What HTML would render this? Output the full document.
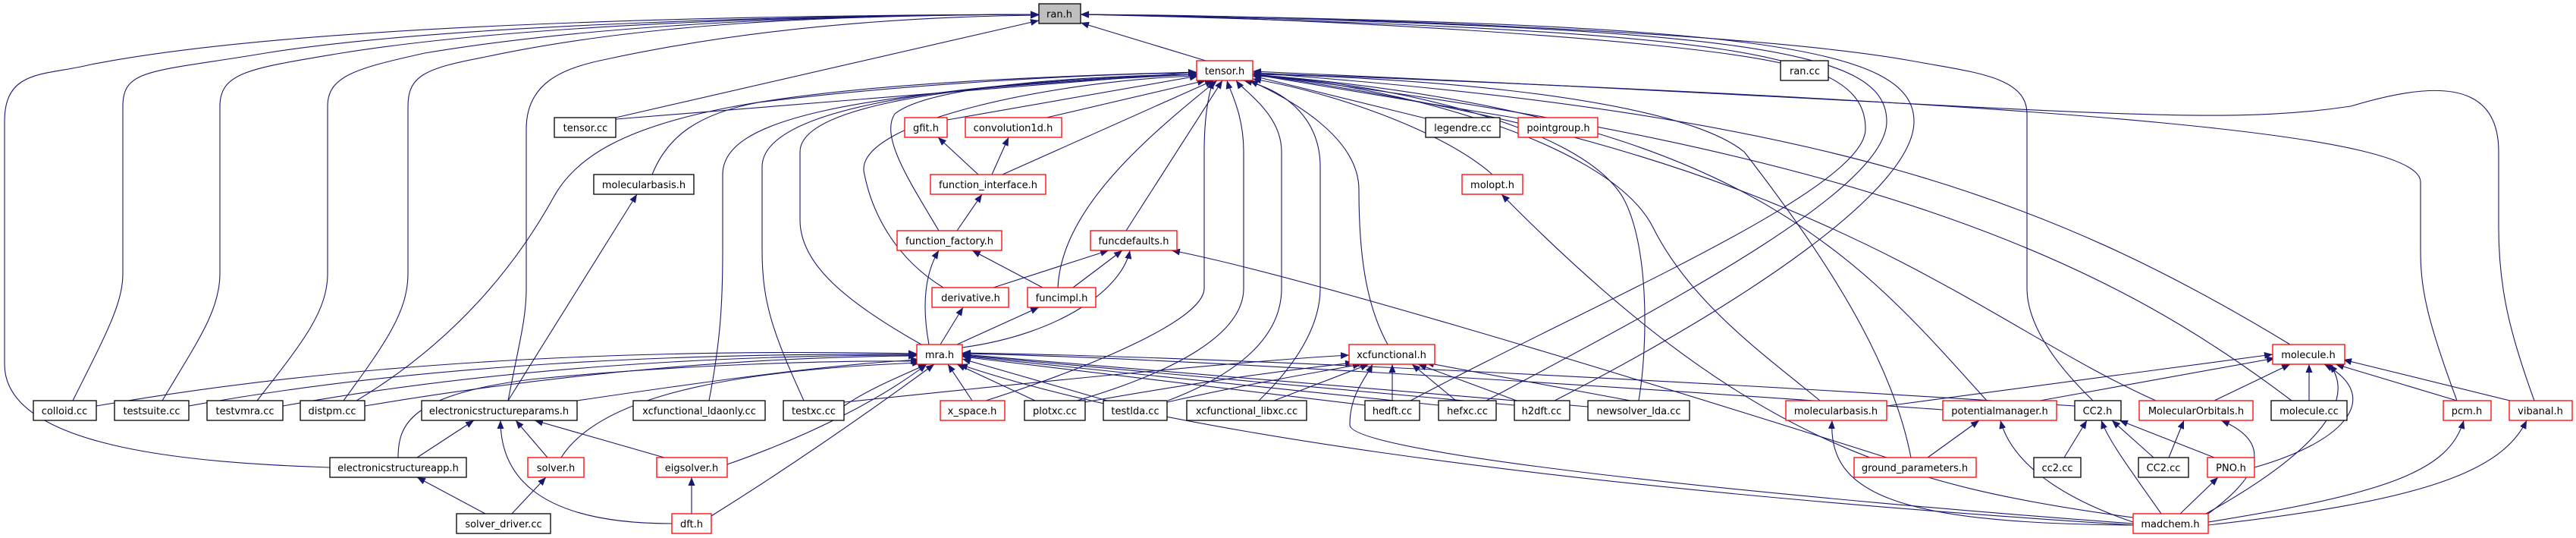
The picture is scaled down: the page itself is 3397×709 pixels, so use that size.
<!DOCTYPE html>
<html><head><meta charset="utf-8"><style>
html,body{margin:0;padding:0;background:#fff;}
svg{display:block;}
text{font-family:"DejaVu Sans","Liberation Sans",sans-serif;font-size:13px;fill:#000;text-anchor:middle;}
.e{fill:none;stroke:#191970;stroke-width:1.1;}
.r{fill:#fff;stroke:#ff0000;stroke-width:1.3;}
.b{fill:#fff;stroke:#000;stroke-width:1.3;}
</style></head><body>
<svg width="3397" height="709" viewBox="0 0 3397 709" xmlns="http://www.w3.org/2000/svg">
<defs><marker id="a" markerUnits="userSpaceOnUse" markerWidth="12" markerHeight="9" refX="11" refY="4.5" orient="auto"><path d="M0,0 L11,4.5 L0,9 z" fill="#191970"/></marker></defs>
<g class="e" marker-end="url(#a)">
<!-- into ran.h -->
<path d="M1590,80 L1425,30"/>
<path d="M812,155 L1370,27"/>
<path d="M96,528 C140,440 162,400 162,360 L162,140 C162,90 200,95 350,70 C600,30 1100,20 1370,19"/>
<path d="M214,528 C260,450 290,410 290,360 L290,140 C290,95 330,90 450,70 C700,30 1100,20 1370,19"/>
<path d="M339,528 C400,450 432,410 432,360 L432,140 C432,100 470,90 560,70 C800,30 1100,20 1370,19"/>
<path d="M453,528 C510,450 538,410 538,360 L538,140 C538,100 560,90 640,75 C850,30 1100,20 1370,19"/>
<path d="M670,528 C685,450 694,420 694,380 L694,170 C694,110 740,90 800,78 C1000,35 1200,22 1370,20"/>
<path d="M435,616 C250,610 6,590 6,480 L6,160 C6,90 60,100 120,85 C400,30 1000,20 1370,19"/>
<path d="M2348,83 C2200,50 1700,22 1425,19"/>
<path d="M1860,528 C2100,400 2460,250 2460,170 C2460,70 2300,40 1425,19"/>
<path d="M1960,528 C2200,400 2488,250 2488,160 C2488,65 2300,35 1425,19"/>
<path d="M2050,528 C2300,400 2524,250 2524,160 C2524,60 2300,30 1425,19"/>
<path d="M2760,528 C2700,470 2673,420 2673,380 L2673,150 C2673,100 2600,95 2520,80 C2300,40 1700,20 1425,19"/>
<!-- into tensor.h -->
<path d="M812,157 L1578,95"/>
<path d="M860,230 C880,180 920,150 1000,135 C1200,110 1450,97 1578,96"/>
<path d="M470,528 C600,450 680,350 730,260 C790,150 1000,110 1578,95"/>
<path d="M1249,158 L1580,100"/>
<path d="M1380,155 L1590,106"/>
<path d="M1322,230 L1600,106"/>
<path d="M1238,304 C1200,240 1160,180 1180,150 C1230,110 1450,100 1580,98"/>
<path d="M1485,304 L1612,106"/>
<path d="M1395,379 C1400,280 1500,190 1605,106"/>
<path d="M1244,379 C1180,340 1150,280 1140,230 C1120,160 1400,105 1580,100"/>
<path d="M1215,454 C1120,400 1055,350 1055,290 L1055,200 C1055,150 1200,110 1580,98"/>
<path d="M935,528 C950,450 953,400 953,330 L953,230 C953,160 1100,120 1580,98"/>
<path d="M1060,528 C1020,440 1005,400 1005,330 L1005,220 C1005,150 1200,110 1580,98"/>
<path d="M1300,528 C1450,480 1588,420 1588,380 L1588,200 C1588,150 1595,120 1600,106"/>
<path d="M1420,528 C1550,490 1640,440 1640,380 L1640,200 C1640,150 1622,120 1618,106"/>
<path d="M1540,528 C1640,490 1690,440 1690,380 L1690,200 C1690,150 1640,120 1630,106"/>
<path d="M1660,528 C1720,470 1741,420 1741,380 L1741,220 C1741,160 1700,120 1640,106"/>
<path d="M1830,454 C1800,400 1792,330 1792,250 C1792,180 1700,130 1648,106"/>
<path d="M1880,156 L1652,100"/>
<path d="M2002,156 L1652,98"/>
<path d="M1968,230 C1900,170 1750,120 1652,104"/>
<path d="M2400,528 C2330,470 2230,400 2180,300 C2120,180 1800,105 1652,100"/>
<path d="M2620,528 C2450,340 2300,150 1652,98"/>
<path d="M2520,603 C2500,500 2440,380 2300,200 C2200,120 1800,100 1652,98"/>
<path d="M2843,528 C2600,420 2400,200 1652,98"/>
<path d="M3022,528 C2800,360 2500,200 1652,98"/>
<path d="M3020,454 C2700,260 2400,150 1652,96"/>
<path d="M3240,528 C3200,420 3192,380 3192,330 L3192,240 C3192,180 2800,140 1652,96"/>
<path d="M3342,528 C3310,440 3295,380 3295,300 L3295,200 C3295,100 3200,110 3100,140 C2900,170 2700,140 1652,94"/>
<path d="M2161,528 C2174,450 2174,320 2140,260 C2080,160 1800,105 1652,100"/>
<!-- into mra.h -->
<path d="M127,535 C500,470 900,460 1209,466"/>
<path d="M249,535 C550,480 900,465 1209,467"/>
<path d="M373,535 C650,485 950,468 1209,468"/>
<path d="M481,535 C750,490 1000,470 1209,469"/>
<path d="M761,528 C950,500 1100,480 1212,474"/>
<path d="M525,603 C525,560 540,520 700,500 C900,480 1100,475 1212,476"/>
<path d="M740,603 C780,540 900,490 1214,478"/>
<path d="M959,612 C1080,570 1170,520 1222,480"/>
<path d="M938,680 C1050,610 1150,540 1232,480"/>
<path d="M1113,535 C1150,510 1190,495 1222,480"/>
<path d="M1282,528 L1250,480"/>
<path d="M1365,528 L1262,480"/>
<path d="M1460,528 L1269,473"/>
<path d="M1800,534 L1269,470"/>
<path d="M1897,534 L1269,469"/>
<path d="M1997,534 L1269,468"/>
<path d="M2094,536 L1269,467"/>
<path d="M2562,540 C2000,500 1500,470 1269,466"/>
<path d="M2736,535 C2200,500 1600,470 1269,465"/>
<path d="M2813,692 C2000,640 1500,560 1265,480"/>
<!-- mra cluster -->
<path d="M1225,454 C1215,400 1220,360 1238,330"/>
<path d="M1240,454 L1270,405"/>
<path d="M1262,454 L1370,405"/>
<path d="M1269,458 C1400,440 1480,380 1490,330"/>
<path d="M1310,379 L1462,330"/>
<path d="M1415,379 L1480,330"/>
<path d="M1375,379 L1282,330"/>
<path d="M1262,304 L1295,256"/>
<path d="M1290,230 L1237,181"/>
<path d="M1308,230 L1330,181"/>
<path d="M2488,603 C2100,480 1700,360 1545,330"/>
<path d="M2813,682 C2500,640 2300,580 1980,256"/>
<path d="M2813,690 C2400,660 1780,600 1780,560 C1780,520 1800,500 1810,480"/>
<!-- into xcfunctional.h -->
<path d="M1113,530 C1400,500 1650,475 1779,468"/>
<path d="M1431,530 C1600,500 1720,485 1785,478"/>
<path d="M1539,530 C1650,505 1740,490 1795,480"/>
<path d="M1680,528 L1805,480"/>
<path d="M1836,528 L1836,480"/>
<path d="M1920,528 L1862,480"/>
<path d="M2000,528 L1870,480"/>
<path d="M2150,528 L1880,478"/>
<!-- into molecule.h -->
<path d="M2488,535 L2997,467"/>
<path d="M2690,528 L3000,472"/>
<path d="M2920,528 L3020,480"/>
<path d="M3045,528 L3045,480"/>
<path d="M2973,616 C3100,580 3140,520 3065,480"/>
<path d="M2900,682 C3050,600 3110,530 3072,480"/>
<path d="M3240,528 L3080,480"/>
<path d="M3310,528 L3090,474"/>
<!-- madchem -->
<path d="M2813,692 C2500,690 2410,650 2416,554"/>
<path d="M2813,688 C2700,650 2650,600 2638,554"/>
<path d="M2850,677 C2810,620 2780,580 2771,554"/>
<path d="M2875,677 L2925,629"/>
<path d="M2912,677 C2990,620 2990,580 2929,554"/>
<path d="M2912,688 C3150,650 3230,620 3249,554"/>
<path d="M2912,692 C3200,660 3300,620 3332,554"/>
<path d="M2722,603 L2752,554"/>
<path d="M2840,603 L2785,554"/>
<path d="M2920,603 L2795,554"/>
<path d="M2860,603 L2880,554"/>
<path d="M2542,603 L2610,554"/>
<!-- electronic structure -->
<path d="M550,603 L625,554"/>
<path d="M722,603 L680,554"/>
<path d="M876,603 L705,554"/>
<path d="M886,690 C700,690 660,620 660,554"/>
<path d="M670,528 L840,256"/>
<path d="M640,677 L550,629"/>
<path d="M675,677 L720,629"/>
<path d="M912,677 L912,629"/>
</g>
<g>
<rect x="1370" y="5" width="55" height="26" fill="#bfbfbf" stroke="#000" stroke-width="1.3"/><text x="1397" y="23">ran.h</text>
<rect class="r" x="1578" y="80" width="74" height="26"/><text x="1615" y="98">tensor.h</text>
<rect class="b" x="2348" y="80" width="63" height="26"/><text x="2380" y="98">ran.cc</text>
<rect class="b" x="731" y="155" width="81" height="26"/><text x="772" y="173">tensor.cc</text>
<rect class="r" x="1193" y="155" width="56" height="26"/><text x="1221" y="173">gfit.h</text>
<rect class="r" x="1273" y="155" width="127" height="26"/><text x="1336" y="173">convolution1d.h</text>
<rect class="b" x="1880" y="155" width="98" height="26"/><text x="1929" y="173">legendre.cc</text>
<rect class="r" x="2002" y="155" width="105" height="26"/><text x="2055" y="173">pointgroup.h</text>
<rect class="b" x="783" y="230" width="132" height="26"/><text x="849" y="248">molecularbasis.h</text>
<rect class="r" x="1227" y="230" width="152" height="26"/><text x="1303" y="248">function_interface.h</text>
<rect class="r" x="1928" y="230" width="80" height="26"/><text x="1968" y="248">molopt.h</text>
<rect class="r" x="1183" y="304" width="138" height="26"/><text x="1252" y="322">function_factory.h</text>
<rect class="r" x="1438" y="304" width="114" height="26"/><text x="1495" y="322">funcdefaults.h</text>
<rect class="r" x="1229" y="379" width="101" height="26"/><text x="1280" y="397">derivative.h</text>
<rect class="r" x="1355" y="379" width="90" height="26"/><text x="1400" y="397">funcimpl.h</text>
<rect class="r" x="1209" y="454" width="60" height="26"/><text x="1239" y="472">mra.h</text>
<rect class="r" x="1779" y="454" width="113" height="26"/><text x="1835" y="472">xcfunctional.h</text>
<rect class="r" x="2997" y="454" width="95" height="26"/><text x="3044" y="472">molecule.h</text>
<rect class="b" x="44" y="528" width="83" height="26"/><text x="85" y="546">colloid.cc</text>
<rect class="b" x="151" y="528" width="98" height="26"/><text x="200" y="546">testsuite.cc</text>
<rect class="b" x="273" y="528" width="100" height="26"/><text x="323" y="546">testvmra.cc</text>
<rect class="b" x="396" y="528" width="85" height="26"/><text x="438" y="546">distpm.cc</text>
<rect class="b" x="556" y="528" width="205" height="26"/><text x="658" y="546">electronicstructureparams.h</text>
<rect class="b" x="835" y="528" width="174" height="26"/><text x="922" y="546">xcfunctional_ldaonly.cc</text>
<rect class="b" x="1033" y="528" width="80" height="26"/><text x="1073" y="546">testxc.cc</text>
<rect class="r" x="1240" y="528" width="85" height="26"/><text x="1282" y="546">x_space.h</text>
<rect class="b" x="1351" y="528" width="80" height="26"/><text x="1391" y="546">plotxc.cc</text>
<rect class="b" x="1455" y="528" width="84" height="26"/><text x="1497" y="546">testlda.cc</text>
<rect class="b" x="1565" y="528" width="158" height="26"/><text x="1644" y="546">xcfunctional_libxc.cc</text>
<rect class="b" x="1800" y="528" width="72" height="26"/><text x="1836" y="546">hedft.cc</text>
<rect class="b" x="1897" y="528" width="76" height="26"/><text x="1935" y="546">hefxc.cc</text>
<rect class="b" x="1997" y="528" width="73" height="26"/><text x="2033" y="546">h2dft.cc</text>
<rect class="b" x="2094" y="528" width="134" height="26"/><text x="2161" y="546">newsolver_lda.cc</text>
<rect class="r" x="2355" y="528" width="133" height="26"/><text x="2421" y="546">molecularbasis.h</text>
<rect class="r" x="2562" y="528" width="150" height="26"/><text x="2637" y="546">potentialmanager.h</text>
<rect class="b" x="2736" y="528" width="61" height="26"/><text x="2766" y="546">CC2.h</text>
<rect class="r" x="2821" y="528" width="150" height="26"/><text x="2896" y="546">MolecularOrbitals.h</text>
<rect class="b" x="2995" y="528" width="100" height="26"/><text x="3045" y="546">molecule.cc</text>
<rect class="r" x="3222" y="528" width="63" height="26"/><text x="3253" y="546">pcm.h</text>
<rect class="r" x="3309" y="528" width="83" height="26"/><text x="3350" y="546">vibanal.h</text>
<rect class="b" x="435" y="603" width="180" height="26"/><text x="525" y="621">electronicstructureapp.h</text>
<rect class="r" x="696" y="603" width="74" height="26"/><text x="733" y="621">solver.h</text>
<rect class="r" x="866" y="603" width="93" height="26"/><text x="912" y="621">eigsolver.h</text>
<rect class="r" x="2445" y="603" width="161" height="26"/><text x="2525" y="621">ground_parameters.h</text>
<rect class="b" x="2682" y="603" width="62" height="26"/><text x="2713" y="621">cc2.cc</text>
<rect class="b" x="2820" y="603" width="66" height="26"/><text x="2853" y="621">CC2.cc</text>
<rect class="r" x="2911" y="603" width="62" height="26"/><text x="2942" y="621">PNO.h</text>
<rect class="b" x="602" y="677" width="124" height="26"/><text x="664" y="695">solver_driver.cc</text>
<rect class="r" x="886" y="677" width="52" height="26"/><text x="912" y="695">dft.h</text>
<rect class="r" x="2813" y="677" width="99" height="26"/><text x="2862" y="695">madchem.h</text>
</g>
</svg>
</body></html>
